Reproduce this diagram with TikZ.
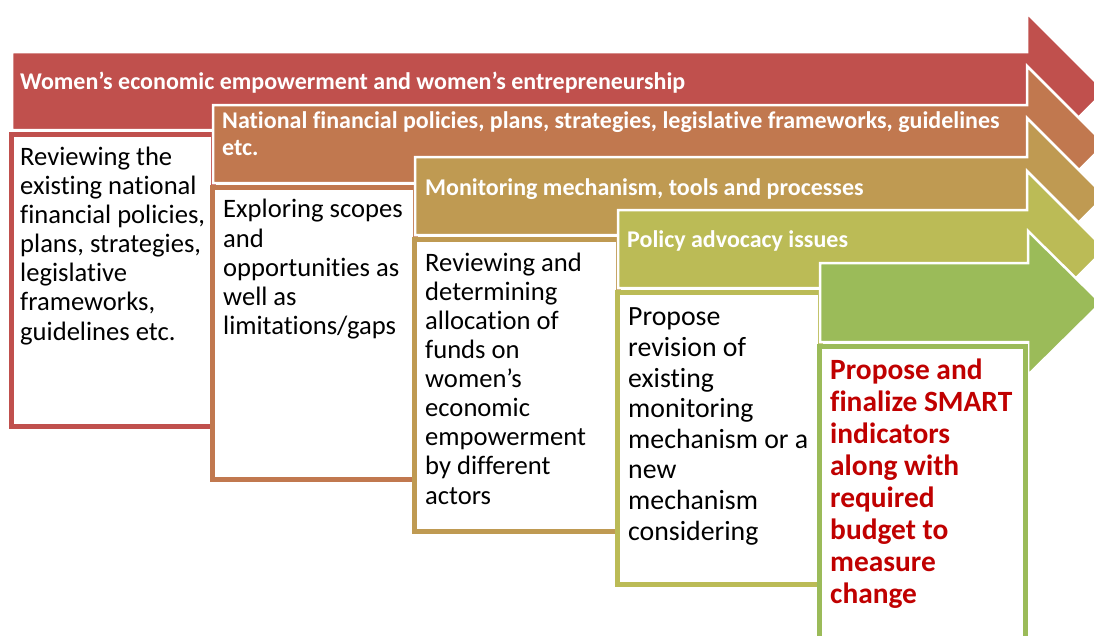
\documentclass[tikz,border=0pt]{standalone}
\usepackage{fontspec}
\setmainfont{Carlito}[Ligatures=NoCommon, Contextuals=NoAlternate]
\usetikzlibrary{positioning}

\definecolor{stepA}{HTML}{C0504D}
\definecolor{stepB}{HTML}{C1784F}
\definecolor{stepC}{HTML}{BF9A52}
\definecolor{stepD}{HTML}{BBBB56}
\definecolor{stepE}{HTML}{9BBB59}
\definecolor{smartred}{HTML}{C00000}

\begin{document}
\begin{tikzpicture}
    [x=1pt, y=-1pt,
     band/.style={fill=#1, draw=white, line width=2.5pt},
     box/.style={fill=white, draw=#1, line width=5pt},
     title/.style={anchor=base west, inner sep=0pt, align=left, text=white,
                   font=\bfseries\fontsize{24}{27}\selectfont},
     boxtext/.style={anchor=base west, inner sep=0pt, align=left,
                     font=\fontsize{26.6}{29.15}\selectfont}]
    \useasboundingbox (0,0) rectangle (1094,635);
    \clip (0,0) rectangle (1094,635);

    % stage 1 (multi-line nodes sit on the baseline of their last line)
    \draw[band=stepA] (12,52) -- (1027,52) -- (1027,13) -- (1105,91)
        -- (1027,169) -- (1027,130) -- (12,130) -- cycle;
    \draw[box=stepA] (11.5,134.5) rectangle (213.5,426.5);
    \node[title] (titleA) at (20,89) {Women’s economic empowerment and women’s entrepreneurship};
    \node[boxtext] (textA) at (20,340) {Reviewing the\\existing national\\financial policies,\\plans, strategies,\\legislative\\frameworks,\\guidelines etc.};

    % stage 2
    \draw[band=stepB] (213,105) -- (1027,105) -- (1027,66) -- (1105,144)
        -- (1027,222) -- (1027,183) -- (213,183) -- cycle;
    \draw[box=stepB] (212.5,187.5) rectangle (415.5,479.5);
    \node[title] (titleB) at (222,155.5) {National financial policies, plans, strategies, legislative frameworks, guidelines\\etc.};
    \node[boxtext] (textB) at (223,334.5) {Exploring scopes\\and\\opportunities as\\well as\\limitations/gaps};

    % stage 3
    \draw[band=stepC] (415,157) -- (1027,157) -- (1027,118) -- (1105,196)
        -- (1027,274) -- (1027,235) -- (415,235) -- cycle;
    \draw[box=stepC] (414.5,239.5) rectangle (618.5,531.5);
    \node[title] (titleC) at (425,195) {Monitoring mechanism, tools and processes};
    \node[boxtext, font=\fontsize{26.6}{29.05}\selectfont] (textC) at (425,504)
        {Reviewing and\\determining\\allocation of\\funds on\\women’s\\economic\\empowerment\\by different\\actors};

    % stage 4
    \draw[band=stepD] (618,210) -- (1027,210) -- (1027,171) -- (1105,249)
        -- (1027,327) -- (1027,288) -- (618,288) -- cycle;
    \draw[box=stepD] (617.5,292.5) rectangle (820.5,584.5);
    \node[title] (titleD) at (627,247) {Policy advocacy issues};
    \node[boxtext, font=\fontsize{27.8}{30.6}\selectfont] (textD) at (628,540)
        {Propose\\revision of\\existing\\monitoring\\mechanism or a\\new\\mechanism\\considering};

    % stage 5
    \draw[band=stepE] (820,263) -- (1028,263) -- (1028,231) -- (1101,303)
        -- (1028,375) -- (1028,342) -- (820,342) -- cycle;
    \draw[box=stepE] (819.5,346.5) rectangle (1025.5,700);
    \node[boxtext, text=smartred, font=\bfseries\fontsize{29.4}{31.9}\selectfont] (textE) at (830,603)
        {Propose and\\finalize SMART\\indicators\\along with\\required\\budget to\\measure\\change};
\end{tikzpicture}
\end{document}
